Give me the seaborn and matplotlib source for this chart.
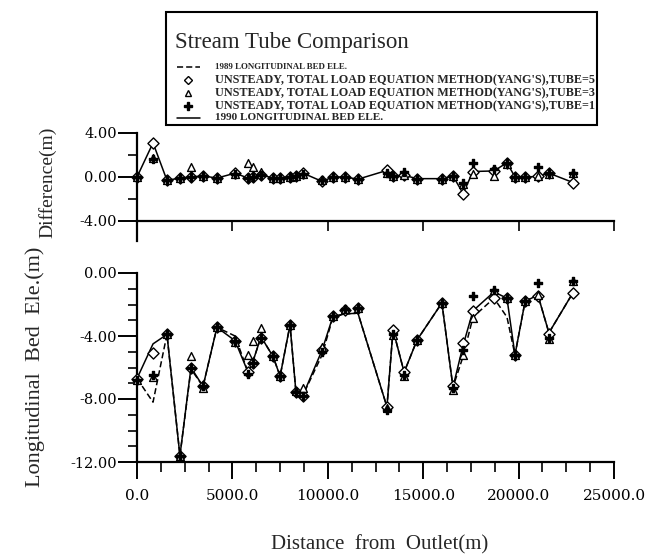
import numpy as np
import pandas as pd
import matplotlib
matplotlib.use("Agg")
import matplotlib.pyplot as plt
import seaborn as sns
from matplotlib.lines import Line2D
from matplotlib.patches import Rectangle
from matplotlib.ticker import MultipleLocator, FormatStrFormatter

sns.set_style("ticks")
plt.rcParams['font.family'] = ['Liberation Serif', 'DejaVu Serif']
plt.rcParams['axes.unicode_minus'] = False

# ---------------- data ----------------
distance = [0, 840, 1570, 2250, 2830, 3460, 4190, 5140, 5820, 6080, 6500, 7130, 7500,
            8020, 8330, 8700, 9700, 10270, 10900, 11580, 13100, 13420, 14000, 14680,
            15980, 16560, 17090, 17610, 18710, 19390, 19810, 20340, 21010, 21590, 22850]

bed_1989 = [-6.7, -8.2, -3.9, -11.6, -6.1, -7.2, -3.45, -4.0, -6.3, -5.6, -4.05, -5.3, -6.55,
            -3.3, -7.55, -7.75, -5.2, -2.8, -2.6, -2.55, -8.5, -3.6, -6.3, -4.25,
            -1.9, -7.25, -5.3, -2.8, -1.6, -2.8, -5.2, -1.8, -1.4, -3.8, -1.25]
bed_1990 = [-6.7, -4.5, -3.9, -11.6, -6.0, -7.2, -3.45, -4.3, -6.3, -5.6, -4.05, -5.3, -6.55,
            -3.3, -7.55, -7.75, -4.9, -2.75, -2.6, -2.55, -8.5, -3.6, -6.3, -4.25,
            -1.9, -7.25, -4.6, -2.4, -1.2, -1.6, -5.2, -1.8, -1.4, -3.8, -1.25]
tube5 = [-6.7, -5.1, -3.9, -11.6, -6.0, -7.2, -3.45, -4.3, -6.3, -5.7, -4.1, -5.3, -6.55,
         -3.3, -7.55, -7.8, -4.9, -2.75, -2.35, -2.2, -8.5, -3.6, -6.3, -4.25,
         -1.9, -7.2, -4.45, -2.4, -1.6, -1.6, -5.2, -1.8, -1.45, -3.9, -1.25]
tube3 = [-6.8, -6.6, -3.9, -11.6, -5.3, -7.3, -3.45, -4.4, -5.2, -4.3, -3.5, -5.3, -6.55,
         -3.3, -7.5, -7.3, -4.7, -2.75, -2.3, -2.2, -8.6, -3.95, -6.55, -4.25,
         -1.9, -7.4, -5.2, -2.85, -1.1, -1.6, -5.2, -1.8, -1.4, -4.2, -0.5]
tube1 = [-6.8, -6.5, -3.9, -11.6, -6.0, -7.2, -3.45, -4.3, -6.4, -5.7, -4.1, -5.3, -6.55,
         -3.3, -7.55, -7.8, -5.0, -2.75, -2.3, -2.2, -8.7, -3.9, -6.5, -4.25,
         -1.9, -7.3, -4.9, -1.45, -1.1, -1.6, -5.2, -1.8, -0.65, -4.1, -0.5]

diff5 = [0.0, 3.1, -0.3, -0.1, 0.0, 0.1, -0.1, 0.35, -0.1, 0.0, 0.2, -0.1, -0.1,
         0.0, 0.1, 0.35, -0.4, 0.0, 0.0, -0.2, 0.6, 0.1, 0.15, -0.15,
         -0.15, 0.1, -1.5, 0.5, 0.55, 1.3, 0.0, 0.0, 0.05, 0.35, -0.5]
diff3 = [0.0, 1.7, -0.3, -0.1, 0.95, 0.05, -0.1, 0.3, 1.25, 0.9, 0.45, -0.1, -0.1,
         0.0, 0.1, 0.3, -0.3, 0.0, 0.0, -0.2, 0.35, 0.1, 0.15, -0.15,
         -0.15, 0.1, -0.6, 0.3, 0.1, 1.2, 0.0, 0.0, 0.05, 0.3, 0.35]
diff1 = [0.0, 1.6, -0.3, -0.1, 0.0, 0.1, -0.1, 0.3, -0.1, 0.0, 0.2, -0.1, -0.1,
         0.0, 0.1, 0.3, -0.3, 0.0, 0.0, -0.2, 0.35, 0.1, 0.5, -0.15,
         -0.15, 0.1, -0.5, 1.3, 0.7, 1.3, 0.0, 0.0, 0.9, 0.35, 0.35]

x_ticks = [0, 5000, 10000, 15000, 20000, 25000]
bed_yticks = [0, -4, -8, -12]
diff_yticks = [4, 0, -4]

legend_title = 'Stream Tube Comparison'
labels = ["1989 LONGITUDINAL BED ELE.",
          "UNSTEADY, TOTAL LOAD EQUATION METHOD(YANG'S),TUBE=5",
          "UNSTEADY, TOTAL LOAD EQUATION METHOD(YANG'S),TUBE=3",
          "UNSTEADY, TOTAL LOAD EQUATION METHOD(YANG'S),TUBE=1",
          "1990 LONGITUDINAL BED ELE."]

df = pd.DataFrame(dict(x=distance, b89=bed_1989, b90=bed_1990, t5=tube5, t3=tube3, t1=tube1,
                       d5=diff5, d3=diff3, d1=diff1))

# ---------------- figure ----------------
W, H = 658, 558
fig = plt.figure(figsize=(W / 100, H / 100), dpi=100)

def px_axes(l, r, t, b):
    return fig.add_axes([l / W, (H - b) / H, (r - l) / W, (b - t) / H])

def fx(px):
    return px / W

def fy(py):
    return 1 - py / H

ax_top = px_axes(137, 614, 133, 221)
ax_bot = px_axes(137, 614, 273, 462)

lw = 1.1
mk = dict(s=32, linewidth=1.0, clip_on=False, zorder=5, legend=False)

# bottom panel
sns.lineplot(data=df, x='x', y='b89', ax=ax_bot, color='black', lw=lw,
             linestyle=(0, (4, 2)), legend=False)
sns.lineplot(data=df, x='x', y='b90', ax=ax_bot, color='black', lw=lw, legend=False)
sns.scatterplot(data=df, x='x', y='t5', ax=ax_bot, marker='D', facecolor='white',
                edgecolor='black', **mk)
sns.scatterplot(data=df, x='x', y='t3', ax=ax_bot, marker='^', facecolor='white',
                edgecolor='black', **mk)
sns.scatterplot(data=df, x='x', y='t1', ax=ax_bot, marker='P', color='black',
                edgecolor='black', **mk)

# top panel
sns.lineplot(data=df, x='x', y='d5', ax=ax_top, color='black', lw=lw, legend=False)
sns.scatterplot(data=df, x='x', y='d5', ax=ax_top, marker='D', facecolor='white',
                edgecolor='black', **mk)
sns.scatterplot(data=df, x='x', y='d3', ax=ax_top, marker='^', facecolor='white',
                edgecolor='black', **mk)
sns.scatterplot(data=df, x='x', y='d1', ax=ax_top, marker='P', color='black',
                edgecolor='black', **mk)

for ax in (ax_top, ax_bot):
    ax.set_xlim(0, 25000)
    for s in ('top', 'right'):
        ax.spines[s].set_visible(False)
    for s in ('left', 'bottom'):
        ax.spines[s].set_linewidth(1.6)
        ax.spines[s].set_color('black')
    ax.set_xticks(x_ticks)
    ax.xaxis.set_major_formatter(FormatStrFormatter('%.1f'))
    ax.yaxis.set_major_formatter(FormatStrFormatter('%.2f'))
    ax.tick_params(axis='y', which='major', direction='out', length=13.5, width=1.4,
                   pad=1, labelsize=10.5, colors='black')
    ax.tick_params(axis='y', which='minor', direction='out', length=6.5, width=1.4)
    ax.set_facecolor('white')
    ax.grid(False)

ax_bot.set_ylim(-12, 0)
ax_bot.set_yticks(bed_yticks)
ax_bot.yaxis.set_minor_locator(MultipleLocator(1))
ax_bot.xaxis.set_minor_locator(MultipleLocator(1250))
ax_bot.tick_params(axis='x', which='major', direction='out', length=12.5, width=1.4,
                   pad=7, labelsize=11, colors='black')
ax_bot.tick_params(axis='x', which='minor', direction='out', length=7, width=1.4)

ax_top.set_ylim(-4, 4)
ax_top.set_yticks(diff_yticks)
ax_top.yaxis.set_minor_locator(MultipleLocator(2))
ax_top.tick_params(axis='x', which='major', direction='out', length=7.5, width=1.4,
                   labelbottom=False)
ax_top.spines['left'].set_bounds(-5.8, 4)

for ax in (ax_top, ax_bot):
    for t in ax.get_xticklabels() + ax.get_yticklabels():
        t.set_fontfamily('DejaVu Serif')

ax_bot.set_xlabel('Distance  from  Outlet(m)', fontsize=15)
ax_bot.xaxis.set_label_coords(0.509, -0.44)
ax_bot.xaxis.label.set_va('center')
ax_bot.set_ylabel('Longitudinal  Bed  Ele.(m)', fontsize=16)
ax_bot.yaxis.set_label_coords((35 - 137) / 477, (462 - 367) / 189)
ax_bot.yaxis.label.set_va('center')
ax_top.set_ylabel('Difference(m)', fontsize=14)
ax_top.yaxis.set_label_coords((47 - 137) / 477, (221 - 182) / 88)
ax_top.yaxis.label.set_va('center')
ax_top.set_xlabel('')

# ---------------- legend box (drawn in figure coordinates) ----------------
fig.add_artist(Rectangle((fx(166), fy(125)), fx(597) - fx(166), fy(12) - fy(125),
                         transform=fig.transFigure, fill=False, edgecolor='black',
                         linewidth=1.5, zorder=10))
fig.text(fx(175), fy(48), legend_title, fontsize=16.5, va='baseline', ha='left')

row_y = [67, 80, 93, 106, 118]
sizes = [6.4, 8.7, 8.7, 8.7, 8.1]
handles = [dict(ls=(0, (4, 2)), marker=None),
           dict(ls='none', marker='D', mfc='white', ms=4.5),
           dict(ls='none', marker='^', mfc='white', ms=5),
           dict(ls='none', marker='P', mfc='black', ms=5.5),
           dict(ls='-', marker=None)]
for y, lab, s, h in zip(row_y, labels, sizes, handles):
    if h['marker'] is None:
        fig.add_artist(Line2D([fx(177), fx(200)], [fy(y), fy(y)], transform=fig.transFigure,
                              color='black', lw=lw, linestyle=h['ls']))
    else:
        fig.add_artist(Line2D([fx(188)], [fy(y)], transform=fig.transFigure, color='black',
                              linestyle='none', marker=h['marker'], mfc=h['mfc'],
                              mec='black', ms=h['ms']))
    fig.text(fx(215), fy(y), lab, fontsize=s, fontweight='bold', va='center', ha='left')

fig.savefig('out.png', dpi=100)
